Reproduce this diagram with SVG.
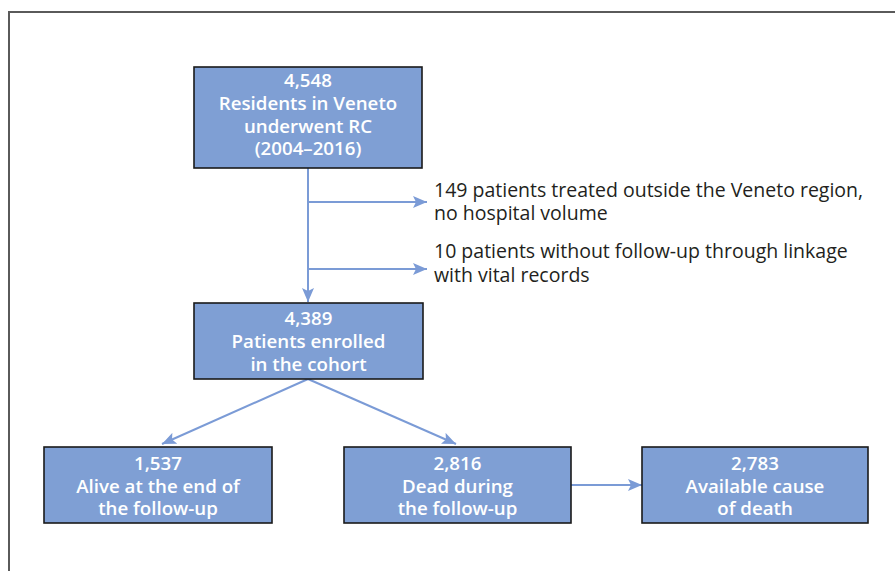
<svg xmlns="http://www.w3.org/2000/svg" width="895" height="571" viewBox="0 0 895 571">
<style>
.box{fill:#7f9fd4;stroke:#1a1a1a;stroke-width:1.6}
.bt{font-family:"Open Sans","Noto Sans",sans-serif;font-size:18.7px;font-weight:600;fill:#ffffff;text-anchor:middle}
.st{font-family:"Open Sans","Noto Sans",sans-serif;font-size:19.5px;fill:#231f20}
.c{stroke:#7b9bd6;stroke-width:2;fill:none}
</style>
<defs>
<marker id="ah" viewBox="0 0 14 12" refX="14" refY="6" markerWidth="14" markerHeight="12" markerUnits="userSpaceOnUse" orient="auto">
<path d="M0,0 L14,6 L0,12 L3,6 Z" fill="#7b9bd6"/>
</marker>
</defs>
<rect width="895" height="571" fill="#ffffff"/>
<path d="M9,571 V12 H895" fill="none" stroke="#5a5a5a" stroke-width="2"/>
<g id="connectors">
<line class="c" x1="308" y1="168" x2="308" y2="302" marker-end="url(#ah)"/>
<line class="c" x1="308" y1="202" x2="427" y2="202" marker-end="url(#ah)"/>
<line class="c" x1="308" y1="269" x2="427" y2="269" marker-end="url(#ah)"/>
<line class="c" x1="308" y1="379" x2="162" y2="444" marker-end="url(#ah)"/>
<line class="c" x1="308" y1="379" x2="456" y2="444" marker-end="url(#ah)"/>
<line class="c" x1="571" y1="485" x2="642" y2="485" marker-end="url(#ah)"/>
</g>
<g id="residents">
<rect class="box" x="194" y="67" width="228" height="101"/>
<text class="bt" x="308" y="87">4,548</text>
<text class="bt" x="308" y="110">Residents in Veneto</text>
<text class="bt" x="308" y="133">underwent RC</text>
<text class="bt" x="308" y="155">(2004–2016)</text>
</g>
<g id="excluded-outside">
<text class="st" x="434" y="197">149 patients treated outside the Veneto region,</text>
<text class="st" x="434" y="220">no hospital volume</text>
</g>
<g id="excluded-followup">
<text class="st" x="434" y="258">10 patients without follow-up through linkage</text>
<text class="st" x="434" y="282">with vital records</text>
</g>
<g id="enrolled">
<rect class="box" x="194" y="303" width="229" height="76"/>
<text class="bt" x="308.5" y="325">4,389</text>
<text class="bt" x="308.5" y="348">Patients enrolled</text>
<text class="bt" x="308.5" y="371">in the cohort</text>
</g>
<g id="alive">
<rect class="box" x="44" y="447" width="228" height="76"/>
<text class="bt" x="158" y="470">1,537</text>
<text class="bt" x="158" y="493">Alive at the end of</text>
<text class="bt" x="158" y="515">the follow-up</text>
</g>
<g id="dead">
<rect class="box" x="344" y="447" width="227" height="76"/>
<text class="bt" x="457.5" y="470">2,816</text>
<text class="bt" x="457.5" y="493">Dead during</text>
<text class="bt" x="457.5" y="515">the follow-up</text>
</g>
<g id="cause">
<rect class="box" x="642" y="447" width="226" height="76"/>
<text class="bt" x="755" y="470">2,783</text>
<text class="bt" x="755" y="493">Available cause</text>
<text class="bt" x="755" y="515">of death</text>
</g>
</svg>
